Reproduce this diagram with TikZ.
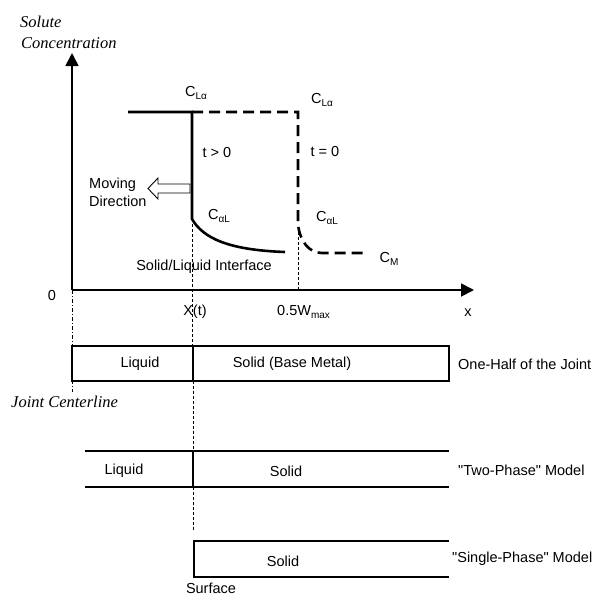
\documentclass[tikz,border=0pt]{standalone}
\usepackage{fontspec}
\setmainfont{Liberation Sans}
\newfontfamily\rawsans{Liberation Sans}
\newfontfamily\serifit{Liberation Serif}
\usetikzlibrary{arrows.meta}
\newcommand\lsub[1]{\raisebox{-3pt}{\fontsize{10}{10}\selectfont #1}}
\newcommand\dq{{\rawsans"}}
\begin{document}
\begin{tikzpicture}[x=1pt,y=-1pt,
  lbl/.style={inner sep=0pt, font=\fontsize{14.5}{18}\selectfont},
  itl/.style={inner sep=0pt, anchor=west, font=\fontsize{16.5}{20}\serifit\itshape},
  axis/.style={line width=1.8pt, -{Triangle[length=13pt,width=13pt]}},
  curvesolid/.style={line width=2.6pt},
  tdash/.style={line width=2.6pt, dash pattern=on 11pt off 6pt},
  guide/.style={line width=0.8pt, dash pattern=on 3pt off 2pt},
  centre/.style={line width=0.8pt, dash pattern=on 4pt off 2pt on 1pt off 2pt},
  bar/.style={line width=1.8pt},
  thinbar/.style={line width=1.2pt}]
\useasboundingbox (0,0) rectangle (600,603);

% named points
\coordinate (O) at (72,290);
\coordinate (ytop) at (72,53);
\coordinate (xend) at (474,290);
\coordinate (s0) at (128,112);
\coordinate (s1) at (192,112);
\coordinate (s2) at (192,219);
\coordinate (s3) at (285,252);
\coordinate (d1) at (298,112);
\coordinate (d2) at (298,225);
\coordinate (d3) at (322,253);
\coordinate (d4) at (366,253);

% axes
\draw[axis] (O) -- (ytop);
\draw[axis] (O) -- (xend);

% t > 0 profile
\draw[curvesolid, line join=miter] (s0) -- (s1) -- (s2) .. controls (203,238) and (228,250) .. (s3);
% t = 0 profile
\draw[tdash] (s1) -- (d1) -- (d2) .. controls (300,240) and (308,253) .. (d3) -- (d4);

% guide lines
\draw[guide] (s2) -- (192,346);
\draw[guide] (298,227) -- (298,290);
\draw[guide] (193,381) -- (193,451);
\draw[guide] (193,487) -- (193,531);
\draw[centre] (72,290) -- (72,392);

% moving direction arrow
\draw[line width=0.9pt, fill=white] (190,184) -- (158,184) -- (158,178) -- (148,188.5) -- (158,199) -- (158,193) -- (190,193) -- cycle;

% one-half of the joint box
\draw[bar] (72,346) rectangle (449,381);
\draw[bar] (193,346) -- (193,381);

% two-phase model
\draw[bar] (85,451) -- (449,451);
\draw[bar] (85,487) -- (449,487);
\draw[thinbar] (193,451) -- (193,487);

% single-phase model
\draw[bar] (449,541) -- (194,541) -- (194,577) -- (449,577);

% labels
\node[itl] (solute) at (20,22) {Solute};
\node[itl] (conc) at (21,43) {Concentration};
\node[lbl] (cla1) at (196,93) {C\lsub{Lα}};
\node[lbl] (cla2) at (322,100) {C\lsub{Lα}};
\node[lbl] (tgt) at (217,153) {t > 0};
\node[lbl] (teq) at (325,152) {t = 0};
\node[lbl, anchor=west, align=left] (mov) at (89,192) {Moving\\Direction};
\node[lbl] (cal1) at (219,216) {C\lsub{αL}};
\node[lbl] (cal2) at (327,218) {C\lsub{αL}};
\node[lbl] (cm) at (389,259) {C\lsub{M}};
\node[lbl] (sli) at (204,267) {Solid/Liquid Interface};
\node[lbl] (zero) at (52,296) {0};
\node[lbl] (xt) at (195,312) {X(t)};
\node[lbl, anchor=west] (wmax) at (277,312) {0.5W\lsub{max}};
\node[lbl] (xlab) at (468,313) {x};
\node[lbl] (liq1) at (140,364) {Liquid};
\node[lbl] (sol1) at (292,364) {Solid (Base Metal)};
\node[lbl, anchor=west] (half) at (458,364) {One-Half of the Joint};
\node[itl] (jc) at (11,402) {Joint Centerline};
\node[lbl] (liq2) at (124,471) {Liquid};
\node[lbl] (sol2) at (286,471) {Solid};
\node[lbl, anchor=west] (two) at (458,470) {\dq Two-Phase\dq{} Model};
\node[lbl] (sol3) at (283,561) {Solid};
\node[lbl, anchor=west] (single) at (452,559) {\dq Single-Phase\dq{} Model};
\node[lbl] (surf) at (211,588) {Surface};
\end{tikzpicture}
\end{document}
